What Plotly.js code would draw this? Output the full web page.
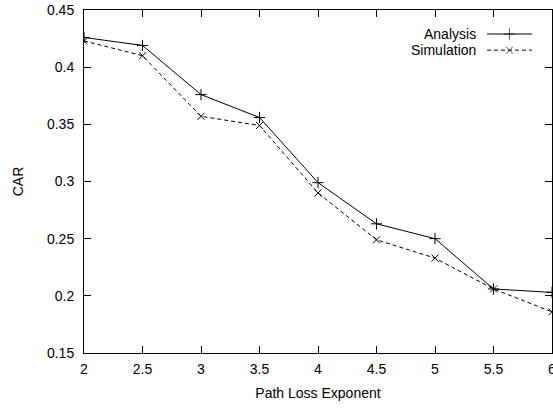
<!DOCTYPE html>
<html><head><meta charset="utf-8">
<script src="https://cdn.plot.ly/plotly-3.0.1.min.js"></script>
<style>body{margin:0;background:#fff}#c{width:553px;height:408px}</style>
</head><body><div id="c"></div>
<script>
const pathLoss = [2, 2.5, 3, 3.5, 4, 4.5, 5, 5.5, 6];
const analysis = [0.426, 0.419, 0.376, 0.356, 0.299, 0.263, 0.250, 0.206, 0.203];
const simulation = [0.423, 0.410, 0.357, 0.349, 0.290, 0.249, 0.233, 0.206, 0.186];
const seriesNames = ['Analysis', 'Simulation'];
const xTicks = [2, 2.5, 3, 3.5, 4, 4.5, 5, 5.5, 6];
const yTicks = [0.15, 0.2, 0.25, 0.3, 0.35, 0.4, 0.45];

const font = {family: 'Liberation Sans, Arial, sans-serif', size: 14, color: '#000'};
const traces = [
  {x: pathLoss, y: analysis, mode: 'lines+markers', showlegend: false,
   line: {color: '#000', width: 1}, marker: {symbol: 'cross-thin-open', size: 8, color: '#000', line: {width: 1, color: '#000'}}},
  {x: pathLoss, y: simulation, mode: 'lines+markers', showlegend: false,
   line: {color: '#000', width: 1, dash: '4px,3px'}, marker: {symbol: 'x-thin-open', size: 7, color: '#000', line: {width: 1, color: '#000'}}},
  // legend samples on hidden overlay axes
  {x: [0, 0.5, 1], y: [0.93, 0.93, 0.93], xaxis: 'x2', yaxis: 'y2', mode: 'lines+markers', showlegend: false, hoverinfo: 'skip',
   line: {color: '#000', width: 1}, marker: {symbol: 'cross-thin-open', size: [0, 8, 0], color: '#000', line: {width: 1, color: '#000'}}},
  {x: [0, 0.5, 1], y: [0.883, 0.883, 0.883], xaxis: 'x2', yaxis: 'y2', mode: 'lines+markers', showlegend: false, hoverinfo: 'skip',
   line: {color: '#000', width: 1, dash: '4px,3px'}, marker: {symbol: 'x-thin-open', size: [0, 7, 0], color: '#000', line: {width: 1, color: '#000'}}}
];

const layout = {
  width: 553, height: 408,
  margin: {l: 84, r: 1, t: 10, b: 55},
  paper_bgcolor: '#fff', plot_bgcolor: 'rgba(0,0,0,0)',
  font: font,
  showlegend: false,
  xaxis: {range: [2, 6], tickvals: xTicks, ticktext: xTicks.map(String), ticks: 'inside', ticklen: 7, tickcolor: '#000',
          showline: true, linecolor: '#000', linewidth: 1, mirror: 'ticks', showgrid: false, zeroline: false,
          ticklabelstandoff: 3, ticklabeloverflow: 'allow', tickfont: font, title: {text: 'Path Loss Exponent', font: font, standoff: 12}},
  yaxis: {range: [0.15, 0.45], tickvals: yTicks, ticktext: yTicks.map(v => String(v)), ticks: 'inside', ticklen: 7, tickcolor: '#000',
          showline: true, linecolor: '#000', linewidth: 1, mirror: 'ticks', showgrid: false, zeroline: false,
          ticklabelstandoff: 6, tickfont: font, title: {text: 'CAR', font: font, standoff: 20}},
  xaxis2: {domain: [0.861, 0.957], range: [0, 1], visible: false, fixedrange: true},
  yaxis2: {domain: [0, 1], range: [0, 1], visible: false, anchor: 'x2', overlaying: 'y', fixedrange: true},
  annotations: [
    {xref: 'paper', yref: 'paper', x: 0.841, y: 0.93, xanchor: 'right', yanchor: 'middle', text: seriesNames[0], showarrow: false, font: font},
    {xref: 'paper', yref: 'paper', x: 0.841, y: 0.883, xanchor: 'right', yanchor: 'middle', text: seriesNames[1], showarrow: false, font: font}
  ]
};
Plotly.newPlot('c', traces, layout, {displayModeBar: false, staticPlot: true});
</script></body></html>
